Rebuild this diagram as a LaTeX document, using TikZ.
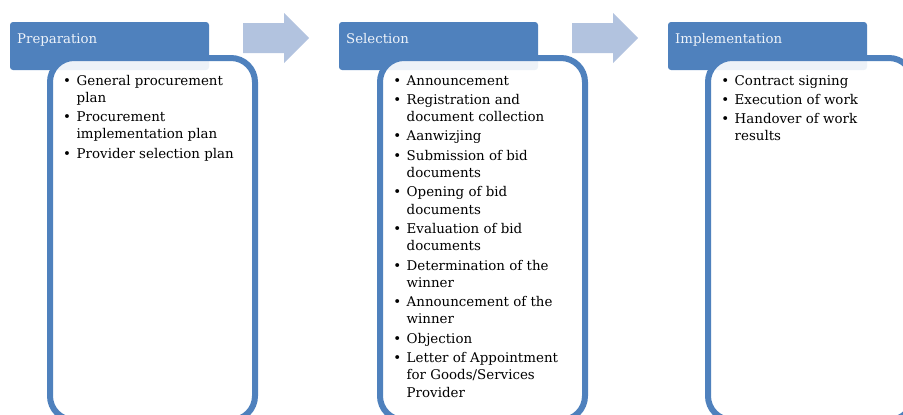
\documentclass[tikz,border=0pt]{standalone}
\usepackage{fontspec}
\setmainfont{DejaVu Serif}
\definecolor{accent}{RGB}{79,129,189}
\definecolor{arrowfill}{RGB}{178,195,223}
\definecolor{headtextcol}{RGB}{238,243,250}
\newcommand\bl{\makebox[9pt][c]{\textbullet}}
\newcommand\listfont{\fontsize{13.4}{17.3}\selectfont}
\newcommand\titlefont{\fontsize{13.3}{17.3}\selectfont}
\tikzset{
  headbox/.style={fill=accent, draw=none, rounded corners=3pt, minimum width=199pt,
    minimum height=48pt, inner sep=0pt, outer sep=0pt, anchor=north west},
  headtext/.style={text=headtextcol, font=\titlefont, inner sep=0pt, anchor=base west},
  contentbox/.style={draw=accent, line width=6pt, fill=white, fill opacity=0.9,
    draw opacity=1, rounded corners=24pt, minimum width=205pt, minimum height=362pt,
    inner sep=0pt, outer sep=0pt},
  listtext/.style={font=\listfont, text=black, inner sep=0pt, anchor=base west},
  stagearrow/.style={fill=arrowfill, draw=none}
}
\begin{document}
\begin{tikzpicture}[x=1pt,y=-1pt]
\useasboundingbox (0,0) rectangle (903,415);
\clip (0,0) rectangle (903,415);
% arrows between stages
\foreach \dx in {0,329}{
  \fill[stagearrow] (243+\dx,23) -- (284+\dx,23) -- (284+\dx,13) -- (309+\dx,38)
     -- (284+\dx,63) -- (284+\dx,53) -- (243+\dx,53) -- cycle;
}
% headers
\node[headbox] (prepHead) at (10,22) {};
\node[headbox] (selHead) at (339,22) {};
\node[headbox] (implHead) at (668,22) {};
% content boxes
\node[contentbox] (prepBox) at (152.5,239) {};
\node[contentbox] (selBox) at (482.5,239) {};
\node[contentbox] (implBox) at (810.5,239) {};
% titles
\node[headtext] (prepTitle) at (17,43) {Preparation};
\node[headtext] (selTitle) at (346,43) {Selection};
\node[headtext] (implTitle) at (675,43) {Implementation};
% lists
\node[listtext] (prepList) at (62.5,85) {%
\begin{tabular}[t]{@{}l@{\hspace{5pt}}l@{}}
\bl & General procurement\\
    & plan\\[2pt]
\bl & Procurement\\
    & implementation plan\\[2pt]
\bl & Provider selection plan
\end{tabular}};
\node[listtext] (selList) at (392.5,85) {%
\begin{tabular}[t]{@{}l@{\hspace{5pt}}l@{}}
\bl & Announcement\\[2pt]
\bl & Registration and\\
    & document collection\\[2pt]
\bl & Aanwizjing\\[2pt]
\bl & Submission of bid\\
    & documents\\[2pt]
\bl & Opening of bid\\
    & documents\\[2pt]
\bl & Evaluation of bid\\
    & documents\\[2pt]
\bl & Determination of the\\
    & winner\\[2pt]
\bl & Announcement of the\\
    & winner\\[2pt]
\bl & Objection\\[2pt]
\bl & Letter of Appointment\\
    & for Goods/Services\\
    & Provider
\end{tabular}};
\node[listtext] (implList) at (720.5,85) {%
\begin{tabular}[t]{@{}l@{\hspace{5pt}}l@{}}
\bl & Contract signing\\[2pt]
\bl & Execution of work\\[2pt]
\bl & Handover of work\\
    & results
\end{tabular}};
\end{tikzpicture}
\end{document}
